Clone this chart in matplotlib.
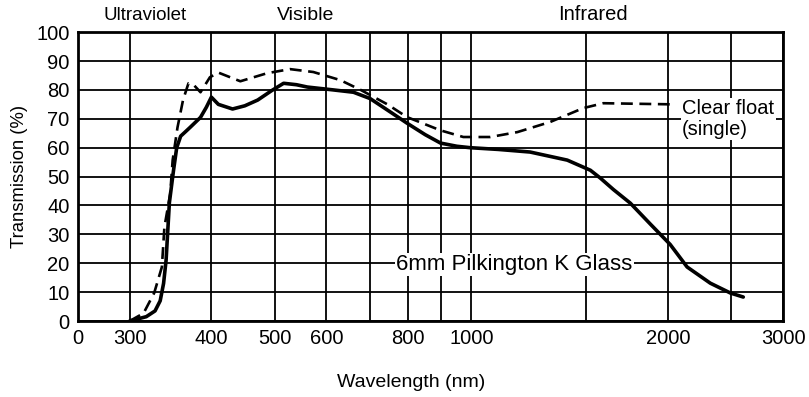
import matplotlib.pyplot as plt
from matplotlib.ticker import NullFormatter

plt.rcParams['font.family'] = ['Liberation Sans', 'DejaVu Sans']

# 6mm Pilkington K Glass (solid)
k_wl = [300, 318, 328, 334, 338, 341, 345, 350, 354, 359, 365, 371, 385, 393,
        400, 410, 431, 450, 471, 495, 516, 540, 561, 615, 660, 700, 750, 797,
        850, 897, 950, 996, 1100, 1230, 1402, 1521, 1575, 1650, 1751, 1880,
        2015, 2139, 2321, 2491, 2607]
k_tr = [0, 1.5, 3.5, 7, 13, 21, 41, 52, 60, 64, 65.5, 67, 70.5, 74,
        77.5, 75, 73.4, 74.5, 76.5, 79.8, 82.3, 81.8, 81, 80, 79.2, 77, 72.5,
        68.5, 64.5, 61.6, 60.5, 60, 59.4, 58.5, 55.7, 52.2, 49.5, 45.5, 40.8,
        33.5, 26.5, 18.7, 13.1, 9.7, 8.3]

# Clear float, single (dashed)
cf_wl = [300, 315, 327, 336, 339, 346, 349, 355, 362, 369, 376, 385, 398,
         410, 443, 487, 528, 573, 630, 677, 744, 797, 897, 972, 1069, 1176,
         1320, 1483, 1592, 2039]
cf_tr = [0, 2.7, 9.7, 18.7, 32.5, 44, 55.7, 67, 76.5, 82.3, 81.7, 79.2, 84.4,
         86, 83, 85.8, 87.2, 86.2, 83.4, 80, 75, 70.6, 66, 63.7, 63.7, 65.4,
         68.9, 73.7, 75.4, 75]

x_ticks = [250, 300, 400, 500, 600, 800, 1000, 2000, 3000]
x_labels = ['0', '300', '400', '500', '600', '800', '1000', '2000', '3000']
x_minor = [700, 900, 1500, 2500]
y_ticks = list(range(0, 101, 10))

fig = plt.figure(figsize=(8.09, 3.97), dpi=100)
ax = fig.add_axes([0.0964, 0.1914, 0.8716, 0.7276])

ax.plot(k_wl, k_tr, color='black', lw=2.6, solid_capstyle='round',
        solid_joinstyle='round', zorder=4)
ax.plot(cf_wl, cf_tr, color='black', lw=1.9, linestyle=(0, (4.5, 2.5)), zorder=4)

ax.set_xscale('log')
ax.set_xlim(250, 3000)
ax.set_ylim(0, 100)
ax.set_xticks(x_ticks)
ax.set_xticklabels(x_labels)
ax.set_xticks(x_minor, minor=True)
ax.xaxis.set_minor_formatter(NullFormatter())
ax.set_yticks(y_ticks)

ax.grid(True, which='both', color='black', lw=1.3)
ax.tick_params(which='both', length=0, labelsize=14.5, pad=6)
for s in ax.spines.values():
    s.set_linewidth(2)

ax.set_xlabel('Wavelength (nm)', fontsize=14)
ax.xaxis.set_label_coords(0.472, -0.185)
ax.set_ylabel('Transmission (%)', fontsize=13.3, labelpad=6)

# region labels above the plot
fig.text(145 / 809, 1 - 15 / 397, 'Ultraviolet', fontsize=13.5, ha='center', va='center')
fig.text(306 / 809, 1 - 15 / 397, 'Visible', fontsize=14, ha='center', va='center')
fig.text(593 / 809, 1 - 15 / 397, 'Infrared', fontsize=14.5, ha='center', va='center')

ax.text(2102, 70, 'Clear float\n(single)', fontsize=14.5, ha='left', va='center',
        linespacing=1.1, zorder=5,
        bbox=dict(facecolor='white', edgecolor='none', pad=1))
ax.text(767, 19.6, '6mm Pilkington K Glass', fontsize=16, ha='left', va='center',
        zorder=5, bbox=dict(facecolor='white', edgecolor='none', pad=1))

fig.savefig('out.png', dpi=100)
